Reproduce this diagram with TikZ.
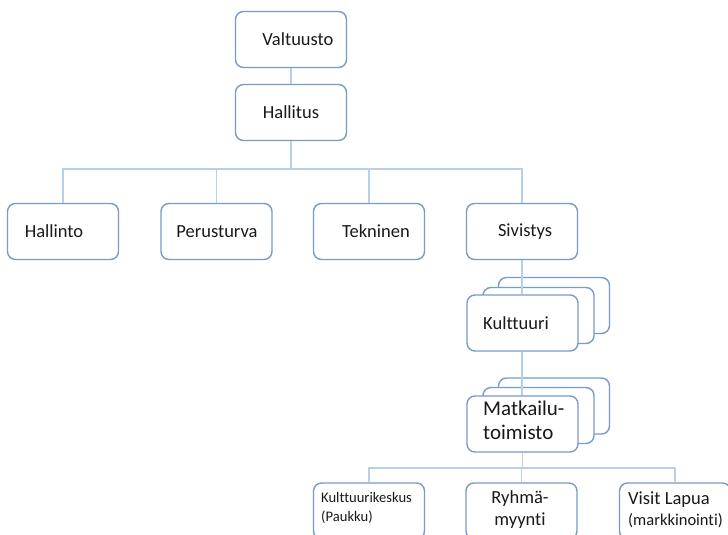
\documentclass[tikz,border=0pt]{standalone}
\usepackage{fontspec}
\setmainfont{Carlito}[Ligatures={NoCommon}]
\definecolor{boxline}{RGB}{120,155,200}
\definecolor{linkline}{RGB}{185,208,234}
\definecolor{ink}{RGB}{25,25,25}
\tikzset{
  orgbox/.style={draw=boxline, fill=white, line width=1.4pt, rounded corners=8pt,
    minimum width=111pt, minimum height=56pt, inner sep=0pt, text=ink},
  link/.style={draw=linkline, line width=1.1pt},
  big/.style={font=\fontsize{18.5}{22}\selectfont, text=ink, align=left, inner sep=0pt},
  bigger/.style={font=\fontsize{21}{24}\selectfont, text=ink, align=left, inner sep=0pt},
  small/.style={font=\fontsize{14.6}{19}\selectfont, text=ink, align=left, inner sep=0pt},
}
\begin{document}
\begin{tikzpicture}[x=1pt,y=-1pt]
\useasboundingbox (0,0) rectangle (728,535);
\clip (0,0) rectangle (728,535);

% shadow copies behind the stacked units
\node[orgbox] (kultC) at (554,305.5) {};
\node[orgbox] (kultB) at (538.5,315.5) {};
\node[orgbox] (matkC) at (554,406) {};
\node[orgbox] (matkB) at (538.5,415.5) {};

% top of the tree
\node[orgbox] (valtuusto) at (291,39.5) {};
\node[big] (valtuusto-t) at (298,39.5) {Valtuusto};
\node[orgbox] (hallitus) at (291,112.5) {};
\node[big] (hallitus-t) at (291,112.5) {Hallitus};

% departments
\node[orgbox] (hallinto) at (63,231.5) {};
\node[big] (hallinto-t) at (54,231.5) {Hallinto};
\node[orgbox] (perusturva) at (216.5,231.5) {};
\node[big] (perusturva-t) at (217,231.5) {Perusturva};
\node[orgbox] (tekninen) at (369,231.5) {};
\node[big] (tekninen-t) at (376,231.5) {Tekninen};
\node[orgbox] (sivistys) at (522,231.5) {};
\node[big] (sivistys-t) at (525,231.5) {Sivistys};

\coordinate (bus) at (0,169);
\coordinate (bus2) at (0,468);

% connectors
\draw[link] (valtuusto.south) -- (hallitus.north);
\foreach \c in {hallinto,perusturva,tekninen,sivistys}
  \draw[link] (hallitus.south) -- (hallitus.south |- bus) -| (\c.north);

\node[orgbox, draw=none, fill=none] (kultA-pos) at (522.5,323) {};
\draw[link] (sivistys.south) -- (sivistys.south |- kultA-pos.north);
\draw[link] (sivistys.south |- kultA-pos.south) -- ++(0,45);

% front units
\node[orgbox] (kult) at (522.5,323) {};
\node[big] (kult-t) at (516,323) {Kulttuuri};
\node[orgbox] (matk) at (522.5,424) {};
\node[bigger, anchor=west] (matk-t) at (483,420) {Matkailu-\\toimisto};

% units under Matkailutoimisto
\node[orgbox] (kkeskus) at (369,511) {};
\node[small, anchor=west] (kkeskus-t) at (321,508) {Kulttuurikeskus\\(Paukku)};
\node[orgbox] (ryhma) at (521.5,511) {};
\node[big, align=center] (ryhma-t) at (520,510) {Ryhmä-\\myynti};
\node[orgbox] (visit) at (675,511) {};
\node[big, anchor=west] (visit-t) at (628,500) {Visit Lapua};
\node[font=\fontsize{16.5}{19}\selectfont, text=ink, inner sep=0pt, anchor=west] (visit-s) at (628,521) {(markkinointi)};

\foreach \c in {kkeskus,ryhma,visit}
  \draw[link] (matk.south) -- (matk.south |- bus2) -| (\c.north);
\end{tikzpicture}
\end{document}
